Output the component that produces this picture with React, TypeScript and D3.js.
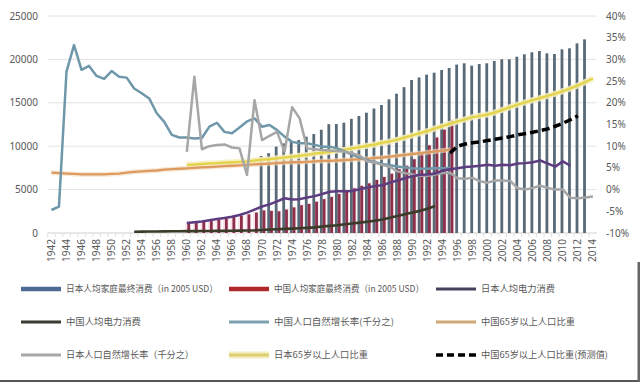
import React from 'react';
import * as d3 from 'd3';

const W = 640;
const H = 382;

// categories
const years: number[] = d3.range(1942, 2015);
const leftTicks = [0, 5000, 10000, 15000, 20000, 25000];
const rightTicks = [-10, -5, 0, 5, 10, 15, 20, 25, 30, 35, 40];

// 日本人均家庭最终消费 (bars, left axis)
const jpConsStart = 1970;
const jpCons = [8870, 9200, 9950, 10330, 10520, 10710, 11100, 11400, 11900, 12540,
  12560, 12710, 13150, 13480, 13860, 14340, 14750, 15400, 16050, 16800,
  17630, 17920, 18250, 18470, 18780, 19000, 19400, 19550, 19280, 19470,
  19550, 19820, 20010, 20010, 20310, 20590, 20820, 20970, 20700, 20620,
  21160, 21280, 21850, 22310];

// 中国人均家庭最终消费 (bars, left axis)
const cnConsStart = 1960;
const cnCons = [1100, 1200, 1300, 1400, 1550, 1700, 1850, 2000, 2150, 2350,
  2600, 2550, 2500, 2700, 2950, 3200, 3350, 3600, 3900, 4150,
  4500, 4800, 5150, 5430, 5720, 6110, 6450, 6830, 7350, 7750,
  8500, 9300, 10100, 11000, 11900, 13000];

// 日本人均电力消费 (left axis)
const jpElecStart = 1960;
const jpElec = [1150, 1250, 1330, 1480, 1620, 1720, 1880, 2080, 2350, 2700,
  3050, 3300, 3650, 4000, 3850, 3900, 4100, 4250, 4500, 4750,
  4800, 4800, 4850, 5050, 5250, 5400, 5500, 5800, 6050, 6300,
  6550, 6700, 6750, 6850, 7200, 7350, 7450, 7600, 7650, 7750,
  7850, 7750, 7850, 7800, 8000, 8050, 8150, 8350, 8000, 7650,
  8250, 7750];

// 中国人均电力消费 (left axis)
const cnElecStart = 1953;
const cnElec = [150, 160, 170, 180, 190, 200, 210, 215, 220, 225,
  230, 240, 250, 260, 270, 285, 300, 350, 400, 430,
  470, 500, 540, 590, 650, 750, 820, 900, 1000, 1100,
  1200, 1300, 1420, 1550, 1750, 1950, 2150, 2350, 2550, 2800, 3100];

// 中国人口自然增长率 (right axis)
const cnGrowthStart = 1942;
const cnGrowth = [-4.7, -3.9, 27.2, 33.3, 27.6, 28.5, 26.2, 25.5, 27.3, 26.0,
  25.8, 23.3, 22.2, 21.0, 17.6, 15.6, 12.6, 12.0, 12.0, 11.8,
  11.9, 14.5, 15.4, 13.3, 13.0, 14.3, 15.7, 16.4, 14.5, 14.9,
  13.7, 12.2, 11.0, 10.7, 10.7, 10.3, 9.9, 9.9, 9.5, 8.8,
  8.0, 7.4, 6.8, 6.3, 5.9, 5.6, 5.3, 5.1, 4.9, 4.8,
  4.8, 4.9, 4.9, 5.0];

// 中国65岁以上人口比重 (right axis)
const cn65Start = 1942;
const cn65 = [3.9, 3.8, 3.7, 3.6, 3.5, 3.5, 3.5, 3.5, 3.6, 3.7,
  3.9, 4.1, 4.2, 4.3, 4.4, 4.6, 4.7, 4.8, 4.9, 5.0,
  5.1, 5.2, 5.3, 5.4, 5.5, 5.6, 5.7, 5.8, 5.9, 6.0,
  6.1, 6.2, 6.3, 6.3, 6.4, 6.5, 6.6, 6.6, 6.7, 6.8,
  6.9, 7.0, 7.1, 7.3, 7.4, 7.6, 7.8, 8.0, 8.2, 8.4,
  8.6, 8.8, 9.0, 9.2];

// 日本人口自然增长率 (right axis)
const jpGrowthStart = 1960;
const jpGrowth = [8.7, 26.0, 9.3, 10.0, 10.3, 10.4, 9.7, 9.5, 3.4, 20.6,
  11.4, 12.4, 13.3, 8.7, 19.0, 16.4, 9.5, 9.3, 9.1, 9.0,
  8.9, 8.7, 8.4, 7.8, 6.5, 6.2, 5.7, 5.2, 4.2, 3.8,
  3.5, 3.2, 3.2, 3.5, 3.8, 3.9, 2.6, 2.5, 2.7, 1.9,
  1.6, 2.1, 2.1, 2.0, 0.3, 0.0, 0.4, 0.9, 0.4, 0.0,
  0.0, -1.9, -2.0, -1.8, -1.6];

// 日本65岁以上人口比重 (right axis)
const jp65Start = 1960;
const jp65 = [5.7, 5.8, 5.9, 6.0, 6.1, 6.2, 6.3, 6.4, 6.5, 6.7,
  6.9, 7.0, 7.2, 7.4, 7.6, 7.8, 8.0, 8.3, 8.5, 8.7,
  9.0, 9.2, 9.5, 9.8, 10.1, 10.4, 10.8, 11.1, 11.5, 12.0,
  12.5, 13.0, 13.5, 14.1, 14.6, 15.2, 15.7, 16.2, 16.7, 17.0,
  17.3, 17.8, 18.4, 19.0, 19.6, 20.1, 20.6, 21.1, 21.6, 22.1,
  22.7, 23.3, 24.0, 24.8, 25.6];

// 中国65岁以上人口比重(预测值) (right axis)
const cnProjStart = 1995;
const cnProj = [8.4, 10.0, 10.5, 10.8, 11.0, 11.3, 11.6, 11.9, 12.2, 12.6,
  12.9, 13.2, 13.6, 14.0, 14.6, 15.3, 16.1, 17.0];

const legendLabels = [
  '日本人均家庭最终消费（in 2005 USD）',
  '中国人均家庭最终消费（in 2005 USD）',
  '日本人均电力消费',
  '中国人均电力消费',
  '中国人口自然增长率(千分之)',
  '中国65岁以上人口比重',
  '日本人口自然增长率（千分之）',
  '日本65岁以上人口比重',
  '中国65岁以上人口比重(预测值)',
];
const legendColors = ['#4f6b95', '#b0282c', '#47405f', '#3a3a30', '#7d9fb0', '#cfa877', '#a8a8a8', '#ddd070', '#000000'];
const legendWidths = [4.5, 4.5, 3, 3, 3, 3, 3, 3, 3.5];
const legendTextLen = [152, 150, 74, 75, 120, 94, 128, 94, 127];

const FONT = '"Noto Sans", "Noto Sans CJK SC", sans-serif';
const CJK = '"Noto Sans CJK SC", sans-serif';

export default function App() {
  const x = d3.scaleBand<number>().domain(years).range([47.7, 596.7]).padding(0);
  const yL = d3.scaleLinear().domain([0, 25000]).range([233, 16]);
  const yR = d3.scaleLinear().domain([-10, 40]).range([233, 16]);
  const cx = (yr: number) => (x(yr) as number) + x.bandwidth() / 2;
  const pts = (start: number, arr: number[]) => arr.map((v, i) => [start + i, v] as [number, number]);
  const lineL = d3.line<[number, number]>().x(d => cx(d[0])).y(d => yL(d[1]));
  const lineR = d3.line<[number, number]>().x(d => cx(d[0])).y(d => yR(d[1]));
  const bw = 2.8;

  const colX = [21, 229, 436];
  const rowY = [289, 322, 355];

  return (
    <div style={{ position: 'fixed', left: 0, top: 0, width: W, height: H, background: '#fff' }}>
      <svg width={W} height={H} style={{ display: 'block' }}>
        <rect x={0} y={0} width={W} height={H} fill="#ffffff" />
        {/* gridlines */}
        {leftTicks.map(t => (
          <line key={'g' + t} x1={47.7} x2={596.7} y1={yL(t)} y2={yL(t)} stroke={t === 0 ? '#d0d0d0' : '#e2e2e2'} strokeWidth={1} />
        ))}
        {/* small x ticks */}
        {years.map(yr => (
          <line key={'xt' + yr} x1={x(yr)} x2={x(yr)} y1={233} y2={237} stroke="#e0e0e0" strokeWidth={1} />
        ))}
        {/* left axis labels */}
        {leftTicks.map(t => (
          <text key={'l' + t} x={38} y={yL(t) + 3.5} textAnchor="end" fontSize={10} fill="#595959" fontFamily={FONT}>{t}</text>
        ))}
        {/* right axis labels */}
        {rightTicks.map(t => (
          <text key={'r' + t} x={606} y={yR(t) + 3.5} textAnchor="start" fontSize={10} fill="#595959" fontFamily={FONT}>{t}%</text>
        ))}
        {/* x labels */}
        {years.filter(yr => (yr - 1942) % 2 === 0).map(yr => (
          <text key={'x' + yr} transform={`translate(${cx(yr) + 3.5},239) rotate(-90)`} textAnchor="end" fontSize={10} fill="#595959" fontFamily={FONT}>{yr}</text>
        ))}

        {/* China consumption bars glow */}
        {pts(cnConsStart, cnCons).map(([yr, v]) => (
          <rect key={'cg' + yr} x={cx(yr) - 1.5} y={yL(v) - 1} width={bw + 3} height={yL(0) - yL(v) + 1} fill="#f2c6d2" opacity={0.45} />
        ))}
        {/* Japan consumption bars */}
        {pts(jpConsStart, jpCons).map(([yr, v]) => (
          <rect key={'jb' + yr} x={cx(yr) - bw + 0.5} y={yL(v)} width={bw} height={yL(0) - yL(v)} fill="#586a78" />
        ))}
        {/* China consumption bars */}
        {pts(cnConsStart, cnCons).map(([yr, v]) => (
          <rect key={'cb' + yr} x={cx(yr) + 0.5} y={yL(v)} width={bw} height={yL(0) - yL(v)} fill="#8e2f4a" />
        ))}

        {/* Japan 65+ glow */}
        <path d={lineR(pts(jp65Start, jp65)) as string} fill="none" stroke="#f4eec0" strokeWidth={6} strokeLinejoin="round" opacity={0.85} />
        {/* China 65+ */}
        <path d={lineR(pts(cn65Start, cn65)) as string} fill="none" stroke="#f3dcc0" strokeWidth={5} strokeLinejoin="round" opacity={0.6} />
        <path d={lineR(pts(cn65Start, cn65)) as string} fill="none" stroke="#dc9a5e" strokeWidth={2.3} strokeLinejoin="round" />
        <path d={lineR(pts(jp65Start, jp65)) as string} fill="none" stroke="#e4d44a" strokeWidth={2.4} strokeLinejoin="round" />
        {/* China growth */}
        <path d={lineR(pts(cnGrowthStart, cnGrowth)) as string} fill="none" stroke="#6f97aa" strokeWidth={2.5} strokeLinejoin="round" />
        {/* Japan growth */}
        <path d={lineR(pts(jpGrowthStart, jpGrowth)) as string} fill="none" stroke="#a6a6a6" strokeWidth={2.5} strokeLinejoin="round" />
        {/* Japan electricity */}
        <path d={lineL(pts(jpElecStart, jpElec)) as string} fill="none" stroke="#5d3c80" strokeWidth={2.5} strokeLinejoin="round" />
        {/* China electricity */}
        <path d={lineL(pts(cnElecStart, cnElec)) as string} fill="none" stroke="#3b3b2a" strokeWidth={2.6} strokeLinejoin="round" />
        {/* China 65+ projection */}
        <path d={lineR(pts(cnProjStart, cnProj)) as string} fill="none" stroke="#000" strokeWidth={3.5} strokeDasharray="8,4" />

        {/* legend */}
        {legendLabels.map((label, i) => {
          const lx = colX[i % 3];
          const ly = rowY[Math.floor(i / 3)];
          return (
            <g key={'lg' + i}>
              {i === 7 && <line x1={lx} x2={lx + 40} y1={ly} y2={ly} stroke="#f4eec0" strokeWidth={7} />}
              <line x1={lx} x2={lx + 40} y1={ly} y2={ly} stroke={legendColors[i]} strokeWidth={legendWidths[i]} strokeDasharray={i === 8 ? '7,4' : undefined} />
              <text x={lx + 45} y={ly + 3.3} fontSize={9.2} fill="#595959" fontFamily={CJK} textLength={legendTextLen[i]} lengthAdjust="spacingAndGlyphs">{label}</text>
            </g>
          );
        })}
        {/* frame */}
        <rect x={0} y={380} width={W} height={2} fill="#555" />
        <rect x={637.5} y={262} width={2.5} height={120} fill="#666" />
      </svg>
    </div>
  );
}
